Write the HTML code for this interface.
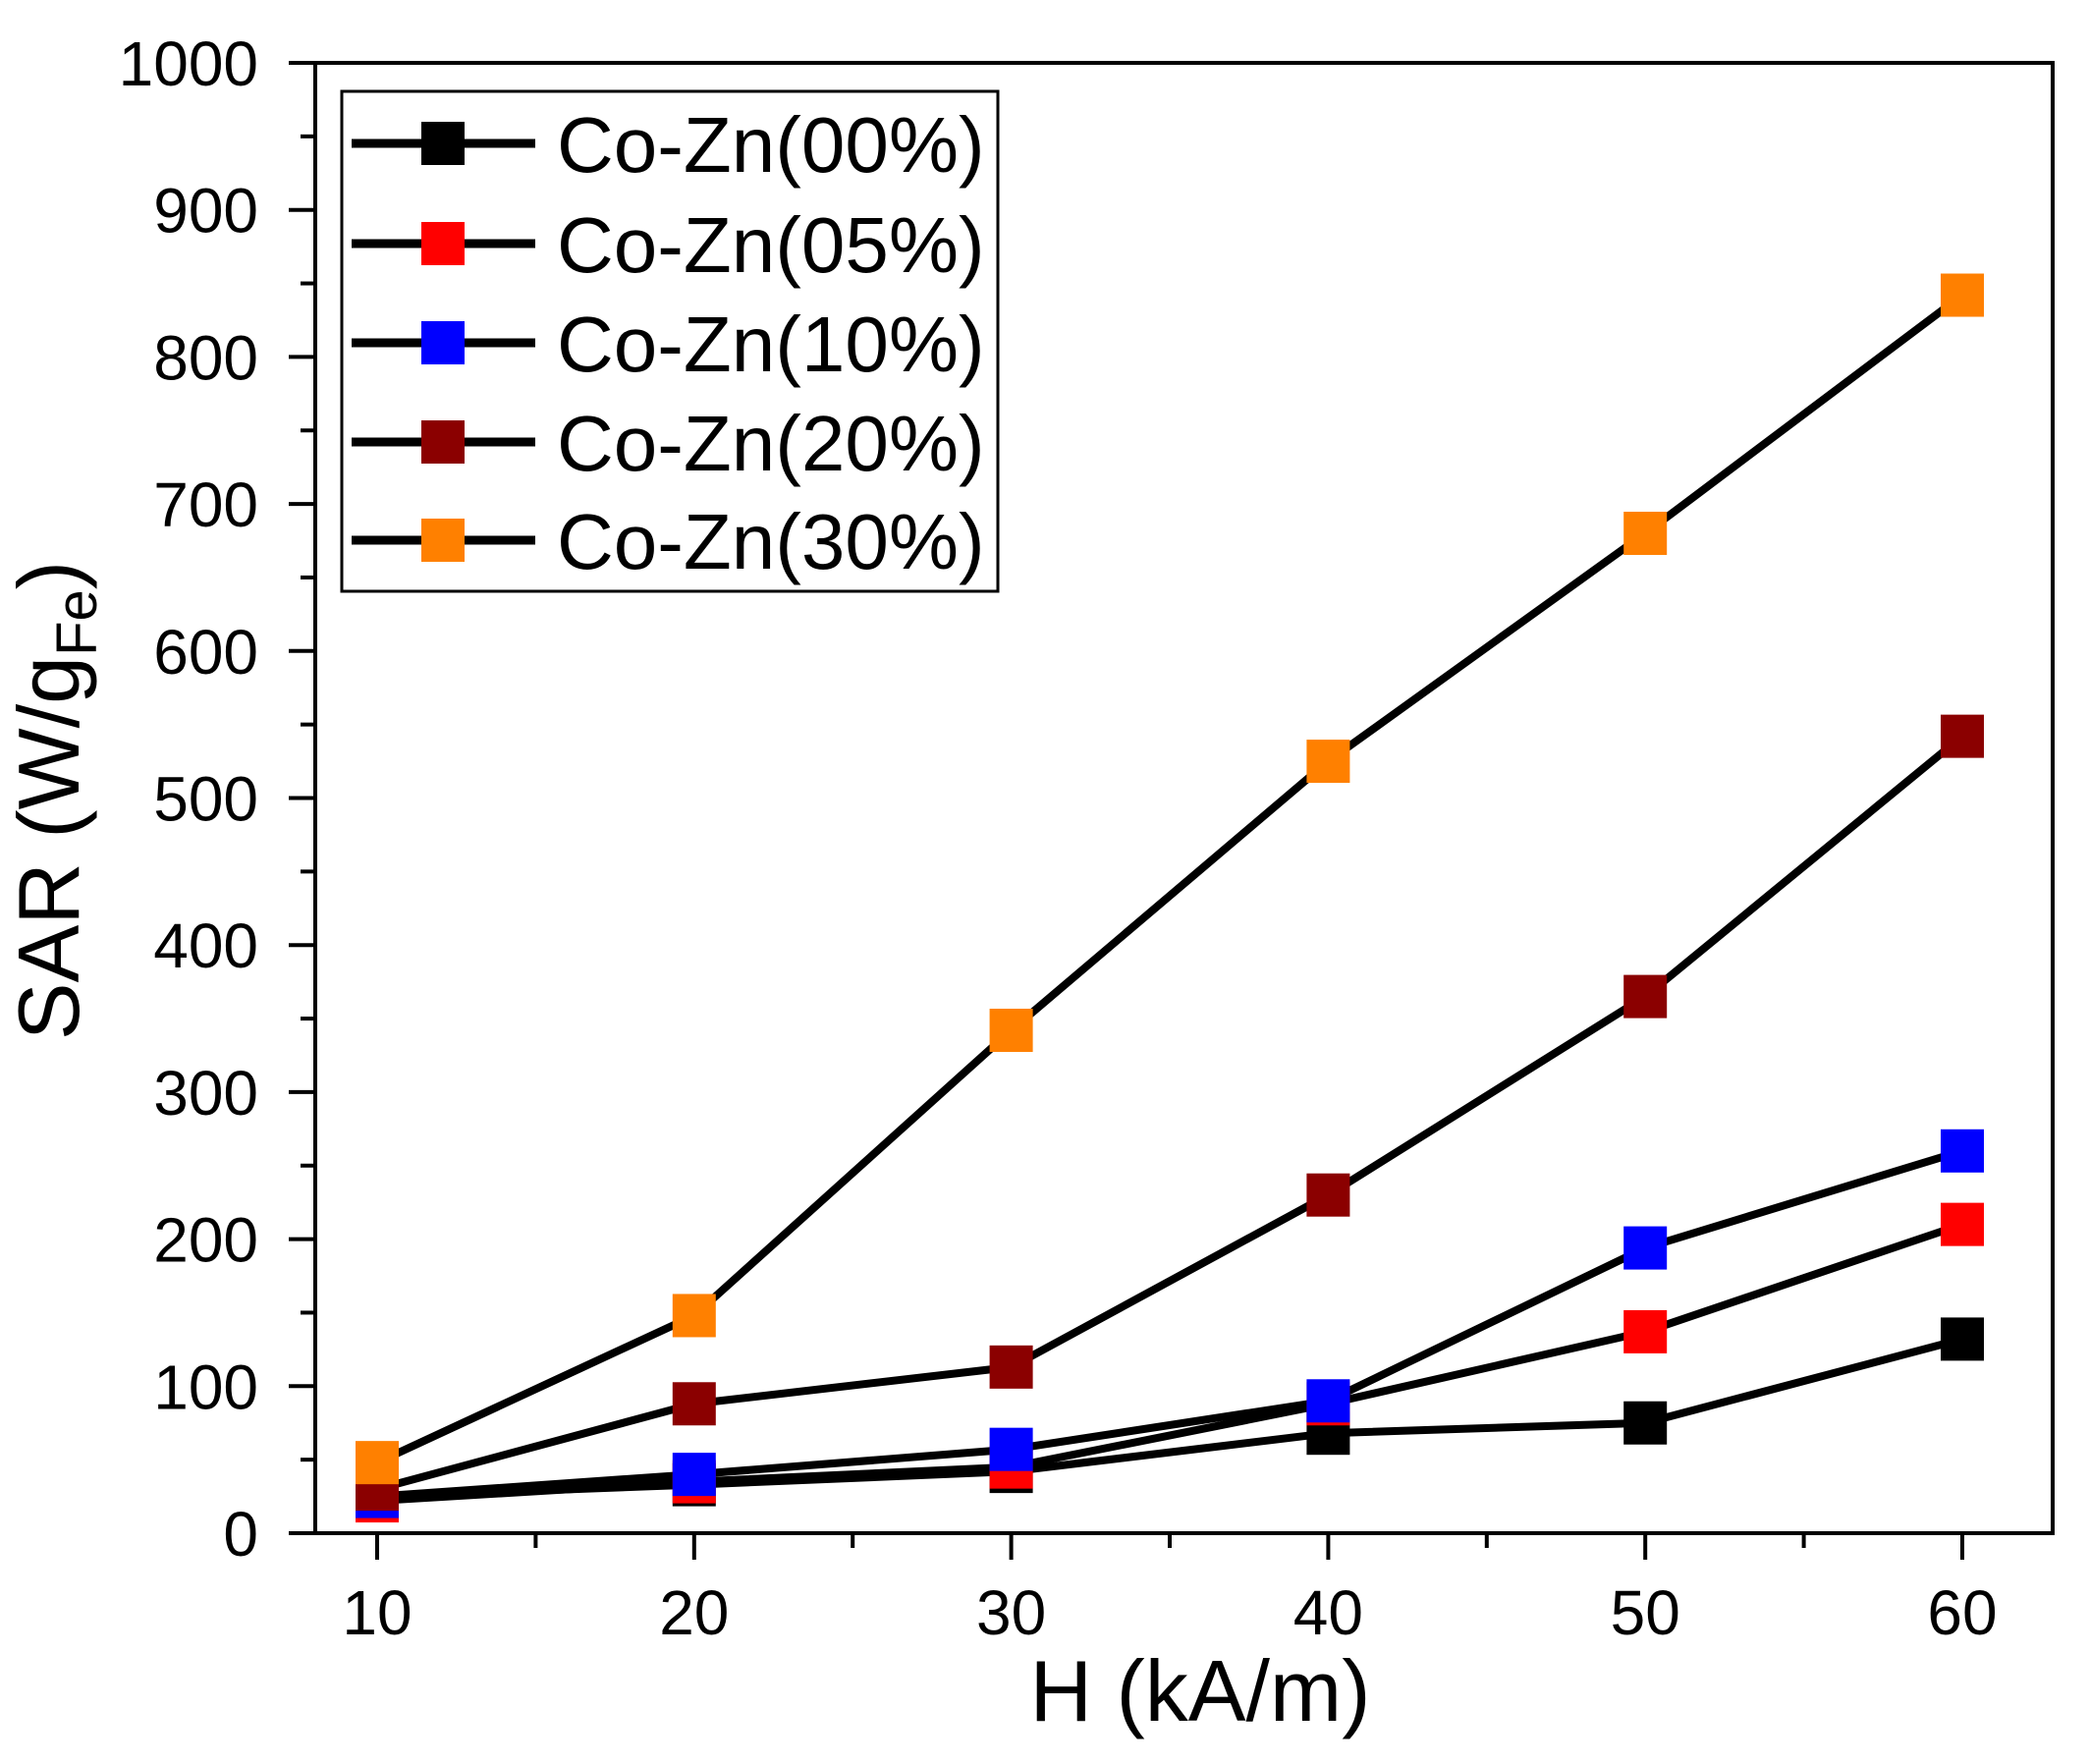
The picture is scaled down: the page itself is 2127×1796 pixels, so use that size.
<!DOCTYPE html>
<html><head><meta charset="utf-8"><style>body{margin:0;background:#fff}svg{display:block}</style></head><body>
<svg width="2127" height="1796" viewBox="0 0 2127 1796" xmlns="http://www.w3.org/2000/svg" font-family="Liberation Sans, Arial, sans-serif">
<rect x="0" y="0" width="2127" height="1796" fill="#fff"/>
<rect x="321" y="64" width="1769" height="1497" fill="none" stroke="#000" stroke-width="4"/>
<g stroke="#000" stroke-width="4" id="ticks"></g>
<g font-size="64" text-anchor="end" id="ylab"></g>
<g font-size="64" text-anchor="middle" id="xlab"></g>
<g id="series"></g>
<text x="1222" y="1752" font-size="88" text-anchor="middle">H (kA/m)</text>
<text transform="translate(80,815) rotate(-90)" font-size="88" text-anchor="middle">SAR (W/g<tspan font-size="58" dy="18">Fe</tspan><tspan dy="-18">)</tspan></text>
<rect x="348" y="93" width="668" height="509" fill="#fff" stroke="#000" stroke-width="3"/>
<g id="legend" font-size="80"></g>
<script>
var ns="http://www.w3.org/2000/svg";
function el(p,t,a,txt){var e=document.createElementNS(ns,t);for(var k in a)e.setAttribute(k,a[k]);if(txt!==undefined)e.textContent=txt;document.getElementById(p).appendChild(e);return e;}
function X(v){return 384+(v-10)*32.28;}
function Y(v){return 1561-v*1.497;}
for(var v=0;v<=1000;v+=50){var maj=v%100==0;el("ticks","line",{x1:321-(maj?27:15),x2:321,y1:Y(v),y2:Y(v)});if(maj)el("ylab","text",{x:263,y:Y(v)+23},String(v));}
for(var v=10;v<=65;v+=5){if(X(v)>2090)break;var maj=v%10==0;el("ticks","line",{x1:X(v),x2:X(v),y1:1561,y2:1561+(maj?27:15)});if(maj)el("xlab","text",{x:X(v),y:1664},String(v));}
var data=[
["#000",[25,33,42,68,75,132],"Co-Zn(00%)"],
["#ff0000",[22,35,45,88,137,210],"Co-Zn(05%)"],
["#0000ff",[25,40,57,90,194,260],"Co-Zn(10%)"],
["#8b0000",[30,88,113,230,365,542],"Co-Zn(20%)"],
["#ff8000",[48,148,342,525,680,842],"Co-Zn(30%)"]];
data.forEach(function(d){var pts=d[1].map(function(v,i){return X(10+10*i)+","+Y(v)}).join(" ");el("series","polyline",{points:pts,fill:"none",stroke:"#000","stroke-width":8,"stroke-linejoin":"round"});});
data.forEach(function(d){d[1].forEach(function(v,i){el("series","rect",{x:X(10+10*i)-22,y:Y(v)-22,width:44,height:44,fill:d[0]});});});
var ly=[146,248,349,450,550];
data.forEach(function(d,i){el("legend","line",{x1:358,x2:545,y1:ly[i],y2:ly[i],stroke:"#000","stroke-width":9});el("legend","rect",{x:429,y:ly[i]-22,width:44,height:44,fill:d[0]});el("legend","text",{x:567,y:ly[i]+29},d[2]);});
</script>
</svg>
</body></html>
